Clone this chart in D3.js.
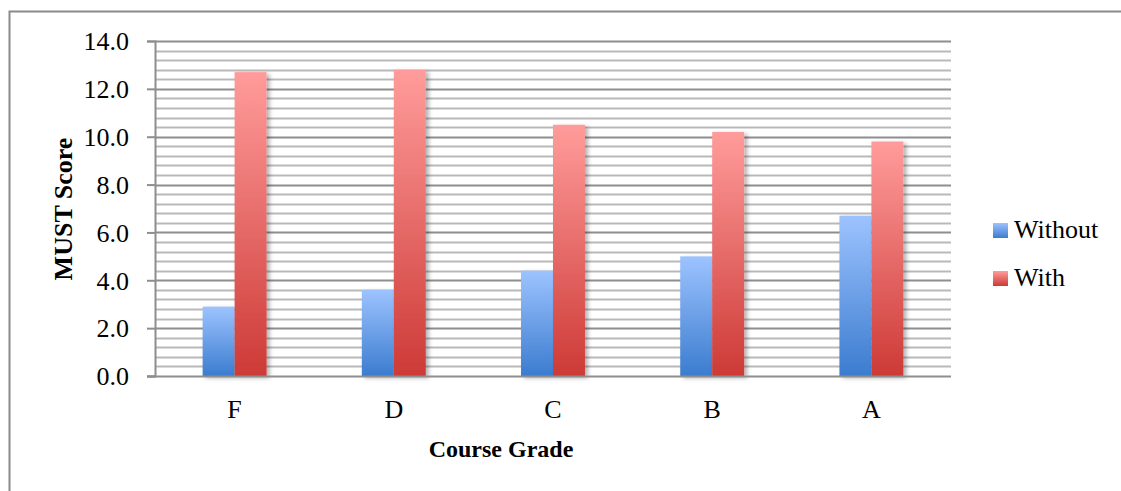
<!DOCTYPE html>
<html>
<head>
<meta charset="utf-8">
<script src="https://cdn.jsdelivr.net/npm/d3@7"></script>
<style>
  html, body { margin: 0; padding: 0; background: #fff; }
  svg { display: block; }
  text { font-family: "Liberation Serif", "DejaVu Serif", serif; fill: #000; }
</style>
</head>
<body>
<div id="chart"></div>
<script>
// MUST scores by course grade, with and without
const grades = ["F", "D", "C", "B", "A"];
const seriesNames = ["Without", "With"];
const withoutValues = [2.9, 3.6, 4.4, 5.0, 6.7];
const withValues = [12.7, 12.8, 10.5, 10.2, 9.8];
const yTicks = [0, 2, 4, 6, 8, 10, 12, 14];

const W = 1121, H = 491;
const plot = { left: 155, right: 951, top: 41, bottom: 376 };
const FONT = "Liberation Serif";

const svg = d3.select("#chart").append("svg")
  .attr("width", W).attr("height", H);

const defs = svg.append("defs");
const grads = [
  { id: "gWithout", top: "#9dc3ff", bottom: "#3b7ccf" },
  { id: "gWith", top: "#ff9c9b", bottom: "#cd3a36" }
];
grads.forEach(g => {
  const lg = defs.append("linearGradient").attr("id", g.id)
    .attr("x1", 0).attr("y1", 0).attr("x2", 0).attr("y2", 1);
  lg.append("stop").attr("offset", "0%").attr("stop-color", g.top);
  lg.append("stop").attr("offset", "100%").attr("stop-color", g.bottom);
});
const shadow = defs.append("filter").attr("id", "barShadow")
  .attr("x", "-20%").attr("y", "-5%").attr("width", "160%").attr("height", "115%");
shadow.append("feDropShadow").attr("dx", 3).attr("dy", 2)
  .attr("stdDeviation", 2).attr("flood-color", "#000").attr("flood-opacity", 0.3);

// outer chart frame
svg.append("rect").attr("x", 9.5).attr("y", 11.5)
  .attr("width", W + 20).attr("height", H + 20)
  .attr("fill", "none").attr("stroke", "#8a8a8a").attr("stroke-width", 2);

const y = d3.scaleLinear().domain([0, 14]).range([plot.bottom, plot.top]);
const x0 = d3.scaleBand().domain(grades).range([plot.left, plot.right]).paddingInner(0).paddingOuter(0);
const x1 = d3.scaleBand().domain(seriesNames).range([0, x0.bandwidth()]).paddingInner(0).paddingOuter(1.49);

// minor gridlines every 0.4
const minor = d3.range(0, 14.0001, 0.4).filter(v => Math.abs(v / 2 - Math.round(v / 2)) > 1e-6);
svg.append("g").selectAll("line").data(minor).join("line")
  .attr("x1", plot.left).attr("x2", plot.right)
  .attr("y1", d => Math.round(y(d)) + 0.5).attr("y2", d => Math.round(y(d)) + 0.5)
  .attr("stroke", "#b9b9b9").attr("stroke-width", 2);
// major gridlines
svg.append("g").selectAll("line").data(yTicks.filter(v => v > 0)).join("line")
  .attr("x1", plot.left).attr("x2", plot.right)
  .attr("y1", d => Math.round(y(d)) + 0.5).attr("y2", d => Math.round(y(d)) + 0.5)
  .attr("stroke", "#8e8e8e").attr("stroke-width", 2);

// bars
const rows = grades.map((g, i) => ({ grade: g, values: [
  { key: "Without", v: withoutValues[i], fill: "url(#gWithout)" },
  { key: "With", v: withValues[i], fill: "url(#gWith)" }
]}));
const groups = svg.append("g").selectAll("g").data(rows).join("g")
  .attr("transform", d => `translate(${x0(d.grade)},0)`);
groups.selectAll("rect").data(d => d.values).join("rect")
  .attr("x", d => x1(d.key))
  .attr("width", x1.bandwidth())
  .attr("y", d => y(d.v))
  .attr("height", d => y(0) - y(d.v))
  .attr("fill", d => d.fill)
  .attr("filter", "url(#barShadow)");

// y axis
const yAxis = d3.axisLeft(y).tickValues(yTicks).tickFormat(d3.format(".1f")).tickSize(8).tickPadding(18);
const ya = svg.append("g").attr("transform", `translate(${plot.left},0)`).call(yAxis);
ya.select(".domain").attr("stroke", "#8e8e8e").attr("stroke-width", 2);
ya.selectAll(".tick line").attr("stroke", "#8e8e8e").attr("stroke-width", 2);
ya.selectAll(".tick text").style("font-family", FONT).style("font-size", "26px").attr("dy", "0.34em");

// x axis baseline and labels
svg.append("line").attr("x1", plot.left - 8).attr("x2", plot.right)
  .attr("y1", plot.bottom + 0.5).attr("y2", plot.bottom + 0.5)
  .attr("stroke", "#8e8e8e").attr("stroke-width", 2);
const xAxis = d3.axisBottom(x0).tickSize(0).tickPadding(42);
const xa = svg.append("g").attr("transform", `translate(0,${plot.bottom})`).call(xAxis);
xa.select(".domain").remove();
xa.selectAll(".tick text").style("font-family", FONT).style("font-size", "26px").attr("dy", "0");

// axis titles
svg.append("text").attr("x", 501).attr("y", 457)
  .attr("text-anchor", "middle").style("font-weight", "bold").style("font-size", "24px")
  .text("Course Grade");
svg.append("text").attr("transform", `translate(72,209) rotate(-90)`)
  .attr("text-anchor", "middle").style("font-weight", "bold").style("font-size", "26px")
  .text("MUST Score");

// legend
const legend = svg.append("g").attr("transform", "translate(993,223)");
const legendItems = [
  { name: seriesNames[0], fill: "url(#gWithout)" },
  { name: seriesNames[1], fill: "url(#gWith)" }
];
const li = legend.selectAll("g").data(legendItems).join("g")
  .attr("transform", (d, i) => `translate(0,${i * 48})`);
li.append("rect").attr("width", 15).attr("height", 15).attr("fill", d => d.fill);
li.append("text").attr("x", 21).attr("y", 15).style("font-size", "26px").text(d => d.name);
</script>
</body>
</html>
